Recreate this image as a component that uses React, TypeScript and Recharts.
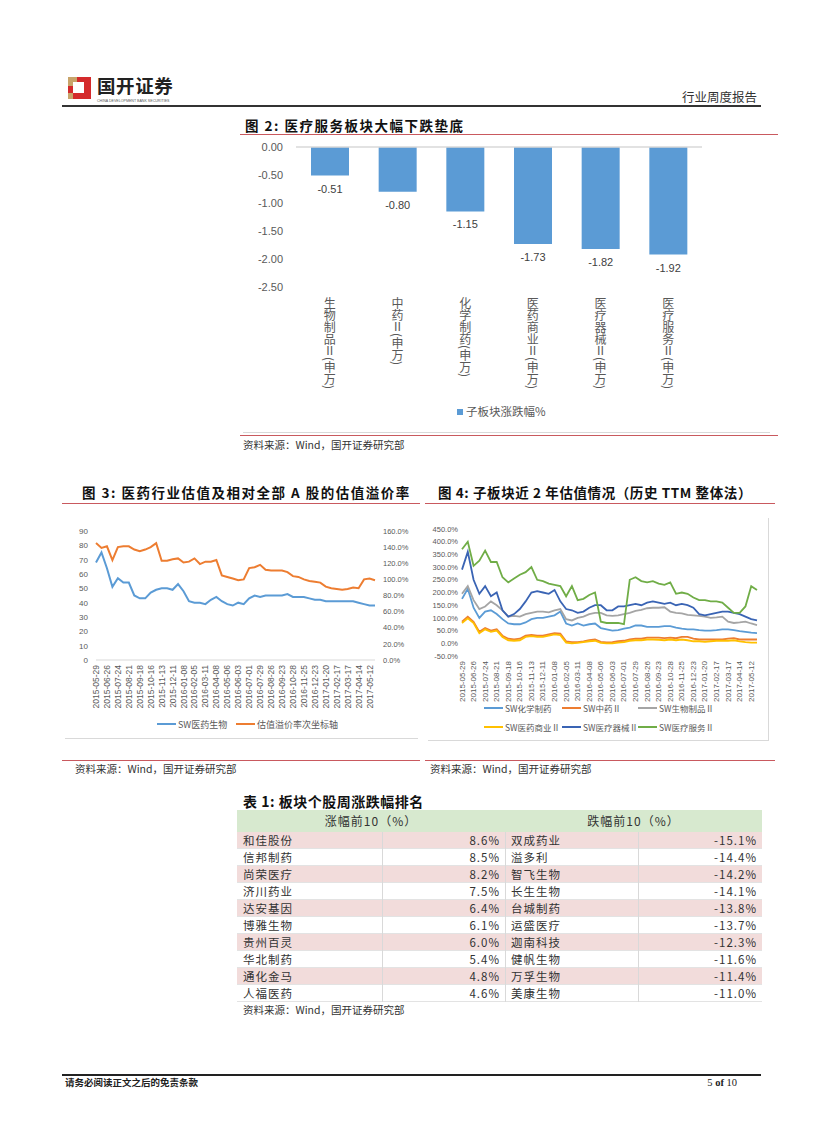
import React from "react";
import { BarChart, Bar, XAxis, YAxis, LineChart, Line, ReferenceLine, LabelList } from "recharts";

const CJK = '"Noto Sans CJK SC", "Noto Sans", sans-serif';
const NUM = '"Liberation Sans", Arial, sans-serif';
const AXIS_GREY = "#595959";
const RED_RULE = "#c9595e";

// 图2 子板块涨跌幅
const sectorNames = ["生物制品Ⅱ(申万)", "中药Ⅱ(申万)", "化学制药(申万)", "医药商业Ⅱ(申万)", "医疗器械Ⅱ(申万)", "医疗服务Ⅱ(申万)"];
const sectorChange = [-0.51, -0.8, -1.15, -1.73, -1.82, -1.92];
const changeTicks = [0, -0.5, -1, -1.5, -2, -2.5];

// 图3 / 图4 周度数据（隔周取值）
const dates = [
  "2015-05-29", "2015-06-12", "2015-06-26", "2015-07-10", "2015-07-24", "2015-08-07", "2015-08-21", "2015-09-04",
  "2015-09-18", "2015-10-02", "2015-10-16", "2015-10-30", "2015-11-13", "2015-11-27", "2015-12-11", "2015-12-25",
  "2016-01-08", "2016-01-22", "2016-02-05", "2016-02-26", "2016-03-11", "2016-03-25", "2016-04-08", "2016-04-22",
  "2016-05-06", "2016-05-20", "2016-06-03", "2016-06-17", "2016-07-01", "2016-07-15", "2016-07-29", "2016-08-12",
  "2016-08-26", "2016-09-09", "2016-09-23", "2016-10-14", "2016-10-28", "2016-11-11", "2016-11-25", "2016-12-09",
  "2016-12-23", "2017-01-06", "2017-01-20", "2017-02-03", "2017-02-17", "2017-03-03", "2017-03-17", "2017-03-31",
  "2017-04-14", "2017-04-28", "2017-05-12", "2017-05-26",
];

const medicalPE = [
  68, 75, 64, 51, 57, 54, 54, 45, 43, 43, 47, 49, 50, 50, 49, 53, 48, 41, 40, 40, 39, 42, 44, 41, 39, 38,
  40, 39, 43, 45, 44, 45, 45, 45, 45, 46, 44, 44, 44, 43, 42, 42, 41, 41, 41, 41, 41, 41, 40, 39, 38, 38,
];
const premiumPct = [
  145, 139, 141, 124, 140, 141, 141, 137, 135, 137, 140, 145, 123, 123, 125, 126, 121, 122, 126, 119, 122, 122, 124, 105, 103, 101,
  99, 100, 114, 115, 118, 112, 111, 111, 111, 109, 104, 103, 100, 98, 97, 96, 91, 89, 88, 87, 88, 90, 89, 100, 101, 99,
];
const peTicks = [0, 10, 20, 30, 40, 50, 60, 70, 80, 90];
const premiumTicks = [0, 20, 40, 60, 80, 100, 120, 140, 160];

const chemPharma = [
  175, 215, 140, 100, 125, 130, 115, 95, 78, 75, 75, 82, 95, 100, 100, 105, 110, 125, 78, 70, 78, 70, 75, 78, 60, 55,
  50, 52, 58, 62, 70, 70, 65, 65, 65, 68, 68, 62, 58, 55, 55, 52, 50, 50, 52, 55, 55, 52, 48, 45, 42, 40,
];
const tcm = [
  85, 105, 85, 45, 60, 50, 55, 30, 18, 15, 18, 30, 33, 30, 30, 35, 40, 38, 8, 5, 5, 8, 12, 15, 6, 4,
  5, 8, 10, 15, 18, 18, 22, 22, 22, 20, 22, 20, 25, 25, 18, 15, 15, 15, 15, 15, 18, 20, 15, 15, 15, 15,
];
const bioProducts = [
  195, 225, 170, 135, 145, 165, 150, 130, 105, 108, 105, 115, 120, 125, 125, 122, 130, 135, 95, 90, 100, 105, 115, 120, 120, 110,
  108, 110, 115, 120, 128, 132, 138, 140, 140, 142, 125, 120, 118, 112, 110, 108, 105, 100, 102, 105, 85, 80, 82, 85, 78, 72,
];
const pharmaCommerce = [
  80, 98, 80, 40, 55, 45, 50, 25, 12, 10, 12, 25, 28, 25, 25, 30, 35, 32, 3, 0, 2, 5, 8, 10, 2, 0,
  0, 3, 5, 10, 12, 12, 15, 15, 14, 12, 15, 12, 15, 12, 8, 8, 6, 8, 10, 10, 10, 12, 8, 5, 3, 3,
];
const medDevices = [
  290, 360, 250, 195, 225, 185, 200, 130, 105, 115, 135, 165, 200, 205, 200, 195, 210, 165, 135, 130, 120, 125, 140, 150, 150, 130,
  130, 145, 145, 150, 155, 150, 160, 165, 160, 155, 160, 150, 155, 150, 140, 115, 110, 115, 120, 125, 125, 120, 115, 105, 95, 90,
];
const medServices = [
  370, 400, 305, 325, 365, 320, 320, 260, 240, 255, 270, 280, 300, 250, 245, 235, 230, 225, 185, 225, 170, 175, 190, 200, 85, 80,
  80, 80, 75, 250, 260, 245, 240, 245, 235, 230, 240, 195, 200, 195, 180, 170, 170, 165, 165, 160, 140, 120, 120, 145, 225, 210,
];
const valuationTicks = [-50, 0, 50, 100, 150, 200, 250, 300, 350, 400, 450];

// 表1
const gainers = ["和佳股份", "信邦制药", "尚荣医疗", "济川药业", "达安基因", "博雅生物", "贵州百灵", "华北制药", "通化金马", "人福医药"];
const gainPct = [8.6, 8.5, 8.2, 7.5, 6.4, 6.1, 6.0, 5.4, 4.8, 4.6];
const losers = ["双成药业", "溢多利", "智飞生物", "长生生物", "台城制药", "运盛医疗", "迦南科技", "健帆生物", "万孚生物", "美康生物"];
const losePct = [-15.1, -14.4, -14.2, -14.1, -13.8, -13.7, -12.3, -11.6, -11.4, -11.0];

const fig2Data = sectorNames.map((name, i) => ({ name, value: sectorChange[i] }));
const fig3Data = dates.map((date, i) => ({ date, pe: medicalPE[i], premium: premiumPct[i] }));
const fig4Data = dates.map((date, i) => ({
  date,
  chem: chemPharma[i],
  tcm: tcm[i],
  bio: bioProducts[i],
  commerce: pharmaCommerce[i],
  devices: medDevices[i],
  services: medServices[i],
}));

const fig4Series = [
  { key: "chem", name: "SW化学制药", color: "#5B9BD5" },
  { key: "tcm", name: "SW中药Ⅱ", color: "#ED7D31" },
  { key: "bio", name: "SW生物制品Ⅱ", color: "#A5A5A5" },
  { key: "commerce", name: "SW医药商业Ⅱ", color: "#FFC000" },
  { key: "devices", name: "SW医疗器械Ⅱ", color: "#3A64B4" },
  { key: "services", name: "SW医疗服务Ⅱ", color: "#70AD47" },
];

const at = (left: number, top: number, extra: React.CSSProperties = {}): React.CSSProperties => ({
  position: "absolute",
  left,
  top,
  ...extra,
});

// text helper, positioned by vertical centre
function T({ x, cy, size, children, bold, color = "#222", right, font = CJK, spacing = 0 }: any) {
  const style: React.CSSProperties = {
    position: "absolute",
    top: cy - size / 2,
    fontSize: size,
    lineHeight: 1,
    fontWeight: bold ? 700 : 400,
    color,
    fontFamily: font,
    whiteSpace: "nowrap",
    letterSpacing: spacing,
  };
  if (right) style.right = 826 - x;
  else style.left = x;
  return <div style={style}>{children}</div>;
}

function Rule({ x, y, w, h = 1, color = RED_RULE }: any) {
  return <div style={at(x, y, { width: w, height: h, background: color })} />;
}

function Source({ x, cy }: { x: number; cy: number }) {
  return (
    <T x={x} cy={cy} size={10.5} color="#333">
      资料来源：Wind，国开证券研究部
    </T>
  );
}

function VerticalTick({ x, y, payload }: any) {
  return (
    <text
      x={x}
      y={y}
      fontSize={12}
      fill={AXIS_GREY}
      fontFamily={CJK}
      style={{ writingMode: "vertical-rl" }}
    >
      {payload.value}
    </text>
  );
}

function DateTick({ x, y, payload, size = 8.5 }: any) {
  return (
    <text
      x={x}
      y={y}
      transform={`rotate(-90 ${x} ${y})`}
      textAnchor="end"
      dominantBaseline="central"
      fontSize={size}
      fill={AXIS_GREY}
      fontFamily={NUM}
    >
      {payload.value}
    </text>
  );
}

function BarValueLabel(props: any) {
  const { x, y, width, height, value } = props;
  const end = Math.max(y, y + height);
  return (
    <text
      x={x + width / 2}
      y={end + 13}
      textAnchor="middle"
      dominantBaseline="central"
      fontSize={11}
      fill="#404040"
      fontFamily={NUM}
    >
      {Number(value).toFixed(2)}
    </text>
  );
}

function Figure2() {
  return (
    <>
      <T x={245} cy={126} size={13.5} bold color="#111" spacing={1.5}>图 2:  医疗服务板块大幅下跌垫底</T>
      <Rule x={240} y={134} w={538} />
      <div style={at(240, 130)}>
        <BarChart width={470} height={270} data={fig2Data} margin={{ top: 17, right: 8, left: 0, bottom: 0 }}>
          <YAxis
            type="number"
            domain={[-2.5, 0]}
            ticks={changeTicks}
            interval={0}
            width={56}
            axisLine={false}
            tickLine={false}
            tickSize={0}
            tickMargin={13}
            tickFormatter={(v: number) => v.toFixed(2)}
            tick={{ fontSize: 11, fill: AXIS_GREY, fontFamily: NUM }}
          />
          <XAxis
            dataKey="name"
            height={113}
            axisLine={false}
            tickLine={false}
            tickSize={0}
            tickMargin={10}
            interval={0}
            tick={<VerticalTick />}
          />
          <ReferenceLine y={0} stroke="#d9d9d9" strokeWidth={1.5} />
          <Bar dataKey="value" fill="#5B9BD5" barSize={38} isAnimationActive={false}>
            <LabelList dataKey="value" content={<BarValueLabel />} />
          </Bar>
        </BarChart>
      </div>
      <div style={at(457, 409, { width: 6, height: 6, background: "#5B9BD5" })} />
      <T x={466} cy={412} size={11.5} color={AXIS_GREY}>子板块涨跌幅%</T>
      <Rule x={243} y={432} w={527} color="#d9d9d9" />
      <Rule x={240} y={435} w={538} />
      <Source x={243} cy={445} />
    </>
  );
}

function Figure3() {
  return (
    <>
      <T x={82} cy={493} size={13.5} bold color="#111" spacing={1.5}>图 3:  医药行业估值及相对全部 A 股的估值溢价率</T>
      <Rule x={62} y={503} w={358} />
      <div style={at(62, 520)}>
        <LineChart width={348} height={195} data={fig3Data} margin={{ top: 11, right: 0, left: 0, bottom: 0 }}>
          <XAxis
            dataKey="date"
            scale="point"
            padding={{ left: 0, right: 0 }}
            height={55}
            interval={1}
            axisLine={{ stroke: "#d9d9d9" }}
            tickLine={false}
            tickSize={0}
            tickMargin={5}
            tick={<DateTick size={8.5} />}
          />
          <YAxis
            yAxisId="left"
            domain={[0, 90]}
            ticks={peTicks}
            interval={0}
            width={34}
            axisLine={false}
            tickLine={false}
            tickSize={0}
            tickMargin={8}
            tick={{ fontSize: 8, fill: AXIS_GREY, fontFamily: NUM }}
          />
          <YAxis
            yAxisId="right"
            orientation="right"
            domain={[0, 160]}
            ticks={premiumTicks}
            interval={0}
            width={35}
            axisLine={false}
            tickLine={false}
            tickSize={0}
            tickMargin={8}
            tickFormatter={(v: number) => `${v.toFixed(1)}%`}
            tick={{ fontSize: 7.5, fill: AXIS_GREY, fontFamily: NUM }}
          />
          <Line yAxisId="left" type="linear" dataKey="pe" stroke="#5B9BD5" strokeWidth={2} dot={false} isAnimationActive={false} />
          <Line yAxisId="right" type="linear" dataKey="premium" stroke="#ED7D31" strokeWidth={2} dot={false} isAnimationActive={false} />
        </LineChart>
      </div>
      <Rule x={157} y={723} w={19} h={2} color="#5B9BD5" />
      <T x={178} cy={724} size={9} color={AXIS_GREY}>SW医药生物</T>
      <Rule x={236} y={723} w={19} h={2} color="#ED7D31" />
      <T x={257} cy={724} size={9} color={AXIS_GREY}>估值溢价率次坐标轴</T>
      <Rule x={65} y={738} w={353} color="#d9d9d9" />
      <Rule x={62} y={760} w={358} />
      <Source x={75} cy={769} />
    </>
  );
}

const legendCols = [484, 562, 638];

function Figure4() {
  return (
    <>
      <T x={438} cy={493} size={13.5} bold color="#111" spacing={0.6}>图 4:  子板块近 2 年估值情况（历史 TTM 整体法）</T>
      <Rule x={425} y={503} w={350} />
      <Rule x={768} y={518} w={1} h={222} color="#d9d9d9" />
      <Rule x={428} y={740} w={341} color="#d9d9d9" />
      <div style={at(425, 520)}>
        <LineChart width={340} height={186} data={fig4Data} margin={{ top: 9, right: 8, left: 0, bottom: 0 }}>
          <XAxis
            dataKey="date"
            scale="point"
            padding={{ left: 0, right: 0 }}
            height={50}
            interval={1}
            axisLine={false}
            tickLine={false}
            tickSize={0}
            tickMargin={5}
            tick={<DateTick size={8} />}
          />
          <YAxis
            domain={[-50, 450]}
            ticks={valuationTicks}
            interval={0}
            width={37}
            axisLine={false}
            tickLine={false}
            tickSize={0}
            tickMargin={4}
            tickFormatter={(v: number) => `${v.toFixed(1)}%`}
            tick={{ fontSize: 7.5, fill: AXIS_GREY, fontFamily: NUM }}
          />
          {fig4Series.map((s) => (
            <Line
              key={s.key}
              type="linear"
              dataKey={s.key}
              name={s.name}
              stroke={s.color}
              strokeWidth={1.8}
              dot={false}
              isAnimationActive={false}
            />
          ))}
        </LineChart>
      </div>
      {fig4Series.map((s, i) => {
        const x = legendCols[i % 3];
        const cy = i < 3 ? 708 : 727;
        return (
          <React.Fragment key={s.key}>
            <Rule x={x} y={cy - 1} w={19} h={2} color={s.color} />
            <T x={x + 21} cy={cy} size={8.5} color={AXIS_GREY}>{s.name}</T>
          </React.Fragment>
        );
      })}
      <Rule x={425} y={760} w={350} />
      <Source x={430} cy={769} />
    </>
  );
}

// table geometry
const colEdges = [237, 382, 505, 638, 762];
const headTop = 810;
const headH = 22;
const rowH = 17;

function Table1() {
  const cellText = { size: 11.5, color: "#333", spacing: 1 };
  return (
    <>
      <T x={243} cy={801} size={14} bold color="#111" spacing={0.5}>表 1:  板块个股周涨跌幅排名</T>
      <div style={at(237, headTop, { width: 525, height: headH, background: "#d7e9cf" })} />
      <div
        style={at(colEdges[0], headTop + 4, {
          width: colEdges[2] - colEdges[0],
          textAlign: "center",
          fontSize: 12,
          lineHeight: "14px",
          color: "#333",
          letterSpacing: 1,
        })}
      >
        涨幅前10（%）
      </div>
      <div
        style={at(colEdges[2], headTop + 4, {
          width: colEdges[4] - colEdges[2],
          textAlign: "center",
          fontSize: 12,
          lineHeight: "14px",
          color: "#333",
          letterSpacing: 1,
        })}
      >
        跌幅前10（%）
      </div>
      {gainers.map((g, i) => {
        const top = headTop + headH + i * rowH;
        const cy = top + rowH / 2;
        return (
          <React.Fragment key={g}>
            <div
              style={at(237, top, {
                width: 525,
                height: rowH,
                boxSizing: "border-box",
                background: i % 2 === 0 ? "#f2dcdb" : "#ffffff",
                borderBottom: "1px solid #e3e3e3",
              })}
            />
            <T x={colEdges[0] + 6} cy={cy} {...cellText}>{g}</T>
            <T x={colEdges[2] - 5} cy={cy} right {...cellText}>{`${gainPct[i].toFixed(1)}%`}</T>
            <T x={colEdges[2] + 6} cy={cy} {...cellText}>{losers[i]}</T>
            <T x={colEdges[4] - 5} cy={cy} right {...cellText}>{`${losePct[i].toFixed(1)}%`}</T>
          </React.Fragment>
        );
      })}
      {colEdges.slice(1, 4).map((x) => (
        <Rule key={x} x={x} y={headTop + headH} w={1} h={rowH * gainers.length} color="#d9d9d9" />
      ))}
      <Source x={243} cy={1010} />
    </>
  );
}

function Header() {
  return (
    <>
      <div style={at(68, 77, { width: 23, height: 22, background: "#d42a2c" })} />
      <div style={at(68, 77, { width: 9, height: 9, background: "#c8a46a" })} />
      <div style={at(73, 82, { width: 11, height: 11, background: "#ffffff" })} />
      <div style={at(68, 93, { width: 5, height: 6, background: "#c8a46a" })} />
      <T x={97} cy={85} size={18.5} bold color="#222" spacing={0.6}>国开证券</T>
      <T x={97} cy={101.5} size={3.6} color="#555" font={NUM}>CHINA DEVELOPMENT BANK SECURITIES</T>
      <T x={757} cy={97} size={12.5} color="#333" right>行业周度报告</T>
      <Rule x={62} y={105} w={699} h={2} color="#333" />
    </>
  );
}

function Footer() {
  return (
    <>
      <Rule x={62} y={1074} w={699} h={2} color="#222" />
      <T x={65} cy={1083} size={9.5} bold color="#222">请务必阅读正文之后的免责条款</T>
      <T x={737} cy={1083} size={10.5} color="#222" right font='"Liberation Serif", serif'>
        5 <b>of</b> 10
      </T>
    </>
  );
}

export default function App() {
  return (
    <div
      style={{
        position: "absolute",
        left: 0,
        top: 0,
        width: 826,
        height: 1122,
        background: "#ffffff",
        overflow: "hidden",
        fontFamily: CJK,
      }}
    >
      <Header />
      <Figure2 />
      <Figure3 />
      <Figure4 />
      <Table1 />
      <Footer />
    </div>
  );
}
